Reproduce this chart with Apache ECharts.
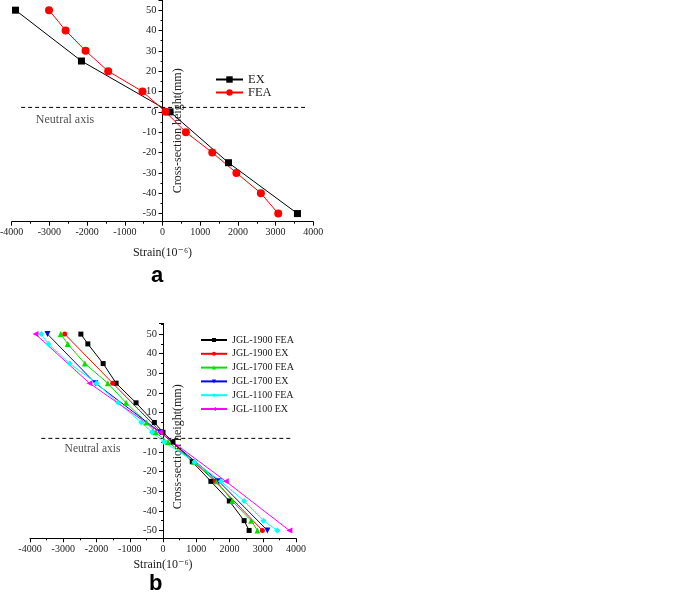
<!DOCTYPE html>
<html>
<head>
<meta charset="utf-8">
<script src="https://cdn.jsdelivr.net/npm/echarts@6/dist/echarts.min.js"></script>
<style>
html,body{margin:0;padding:0;background:#fff;}
#c{width:685px;height:596px;}
</style>
</head>
<body>
<div id="c"></div>
<script>
// ---------- Panel a data ----------
const aEX_x = [-3900, -2150, 200, 1750, 3580];
const aEX_y = [50, 25, 0, -25, -50];
const aFEA_x = [-3010, -2570, -2040, -1440, -530, 80, 620, 1320, 1960, 2610, 3070];
const aFEA_y = [50, 40, 30, 20, 10, 0, -10, -20, -30, -40, -50];
const aNeutral_x = [-3750, 3780];
const aNeutral_y = [2.2, 2.2];
const aNeutralLabel = [-3360, -4.1];

// ---------- Panel b data ----------
const bFEA_y = [50, 45, 35, 25, 15, 5, 0, -5, -15, -25, -35, -45, -50];
const bEX_y = [50, 25, 0, -25, -50];
const jgl1900FEA = [-2470, -2260, -1800, -1410, -810, -260, 0, 300, 880, 1440, 1995, 2440, 2590];
const jgl1900EX = [-2955, -1513, -60, 1570, 2990];
const jgl1700FEA = [-3075, -2865, -2350, -1660, -1110, -500, -230, 150, 930, 1620, 2080, 2650, 2840];
const jgl1700EX = [-3474, -2033, -80, 1680, 3140];
const jgl1100FEA = [-3660, -3450, -2810, -2000, -1350, -650, -330, 30, 950, 1740, 2440, 3020, 3440];
const jgl1100EX = [-3835, -2213, -100, 1890, 3800];
const bNeutral_x = [-3660, 3870];
const bNeutral_y = [-3.1, -3.1];
const bNeutralLabel = [-2960, -8.6];

// ---------- Axis labels ----------
const yName = 'Cross-section height(mm)';
const xName = 'Strain(10\u207B\u2076)';

const zip = (xs, ys) => xs.map((x, i) => [x, ys[i]]);
const SERIF = '"Liberation Serif", "Times New Roman", "DejaVu Serif", serif';

const gridA = {left: 11.7, top: 0, width: 301.6, height: 221.7};
const gridB = {left: 30, top: 323.3, width: 266, height: 215};

function xAxisCfg(gi, nameGap) {
  return {
    type: 'value', gridIndex: gi, min: -4000, max: 4000, interval: 1000,
    name: xName, nameLocation: 'middle', nameGap: nameGap,
    nameTextStyle: {fontFamily: SERIF, fontSize: 12, color: '#222'},
    axisLine: {onZero: false, lineStyle: {color: '#000', width: 1}},
    axisTick: {show: true, length: 4, lineStyle: {color: '#000'}},
    minorTick: {show: true, splitNumber: 2, length: 2, lineStyle: {color: '#000'}},
    axisLabel: {fontFamily: SERIF, fontSize: 10, color: '#222', margin: 6,
      formatter: v => String(v)},
    splitLine: {show: false}
  };
}
function yAxisCfg(gi, min, max, pad, offset) {
  return {
    type: 'value', gridIndex: gi, min: min, max: max, splitNumber: 11,
    position: 'left', offset: offset,
    name: yName, nameLocation: 'middle', nameGap: -21, nameRotate: 90,
    nameTextStyle: {fontFamily: SERIF, fontSize: 12, color: '#222', padding: [0, pad, 0, 0]},
    axisLine: {onZero: false, lineStyle: {color: '#000', width: 1}},
    axisTick: {show: true, length: 4, lineStyle: {color: '#000'}},
    minorTick: {show: true, splitNumber: 2, length: 2, lineStyle: {color: '#000'}},
    axisLabel: {fontFamily: SERIF, fontSize: 10.5, color: '#222', margin: 6,
      showMinLabel: false, showMaxLabel: false, formatter: v => String(v)},
    splitLine: {show: false}
  };
}

function lineSeries(name, gi, data, color, symbol, size, rotate) {
  return {
    name: name, type: 'line', xAxisIndex: gi, yAxisIndex: gi, data: data,
    symbol: symbol, symbolSize: size, symbolRotate: rotate || 0,
    showSymbol: true, animation: false,
    lineStyle: {color: color, width: 1},
    itemStyle: {color: color, borderWidth: 0}
  };
}
function neutralSeries(gi, xs, ys, lbl, fs) {
  return [{
    name: 'neutral' + gi, type: 'line', xAxisIndex: gi, yAxisIndex: gi,
    data: zip(xs, ys), symbol: 'none', animation: false, silent: true,
    lineStyle: {color: '#000', width: 1, type: [4, 3]}
  }, {
    name: 'neutralLabel' + gi, type: 'scatter', xAxisIndex: gi, yAxisIndex: gi,
    data: [lbl], symbolSize: 0, animation: false, silent: true,
    label: {show: true, position: 'right', distance: 0, formatter: 'Neutral axis',
      fontFamily: SERIF, fontSize: fs, color: '#222'}
  }];
}

const chart = echarts.init(document.getElementById('c'), null, {renderer: 'canvas'});
chart.setOption({
  backgroundColor: '#fff',
  animation: false,
  grid: [
    Object.assign({containLabel: false, outerBoundsMode: 'none'}, gridA),
    Object.assign({containLabel: false, outerBoundsMode: 'none'}, gridB)
  ],
  xAxis: [xAxisCfg(0, 25), xAxisCfg(1, 21)],
  yAxis: [yAxisCfg(0, -54, 55, 40, -gridA.width / 2), yAxisCfg(1, -54, 55.5, 32, -gridB.width / 2)],
  legend: [
    {data: ['EX', 'FEA'], orient: 'vertical', left: 210, top: 68,
      itemWidth: 27, itemHeight: 8, itemGap: 0,
      textStyle: {fontFamily: SERIF, fontSize: 12.5, color: '#222', lineHeight: 13}},
    {data: ['JGL-1900 FEA', 'JGL-1900 EX', 'JGL-1700 FEA', 'JGL-1700 EX', 'JGL-1100 FEA', 'JGL-1100 EX'],
      orient: 'vertical', left: 195, top: 329,
      itemWidth: 26, itemHeight: 5, itemGap: 1.8,
      textStyle: {fontFamily: SERIF, fontSize: 10, color: '#222', lineHeight: 12}}
  ],
  graphic: [
    {type: 'text', left: 151, top: 265, style: {text: 'a', font: 'bold 22px "Liberation Sans", Arial, sans-serif', fill: '#000'}},
    {type: 'text', left: 149, top: 573, style: {text: 'b', font: 'bold 22px "Liberation Sans", Arial, sans-serif', fill: '#000'}}
  ],
  series: [
    ...neutralSeries(0, aNeutral_x, aNeutral_y, aNeutralLabel, 12),
    lineSeries('EX', 0, zip(aEX_x, aEX_y), '#000', 'rect', 7),
    lineSeries('FEA', 0, zip(aFEA_x, aFEA_y), '#ff0000', 'circle', 8),
    ...neutralSeries(1, bNeutral_x, bNeutral_y, bNeutralLabel, 11.5),
    lineSeries('JGL-1900 FEA', 1, zip(jgl1900FEA, bFEA_y), '#000000', 'rect', 5),
    lineSeries('JGL-1900 EX', 1, zip(jgl1900EX, bEX_y), '#ff0000', 'circle', 5),
    lineSeries('JGL-1700 FEA', 1, zip(jgl1700FEA, bFEA_y), '#00e000', 'triangle', 6),
    lineSeries('JGL-1700 EX', 1, zip(jgl1700EX, bEX_y), '#0000ff', 'triangle', 6, 180),
    lineSeries('JGL-1100 FEA', 1, zip(jgl1100FEA, bFEA_y), '#00ffff', 'diamond', 6),
    lineSeries('JGL-1100 EX', 1, zip(jgl1100EX, bEX_y), '#ff00ff', 'triangle', 6, 90)
  ]
});
</script>
</body>
</html>
